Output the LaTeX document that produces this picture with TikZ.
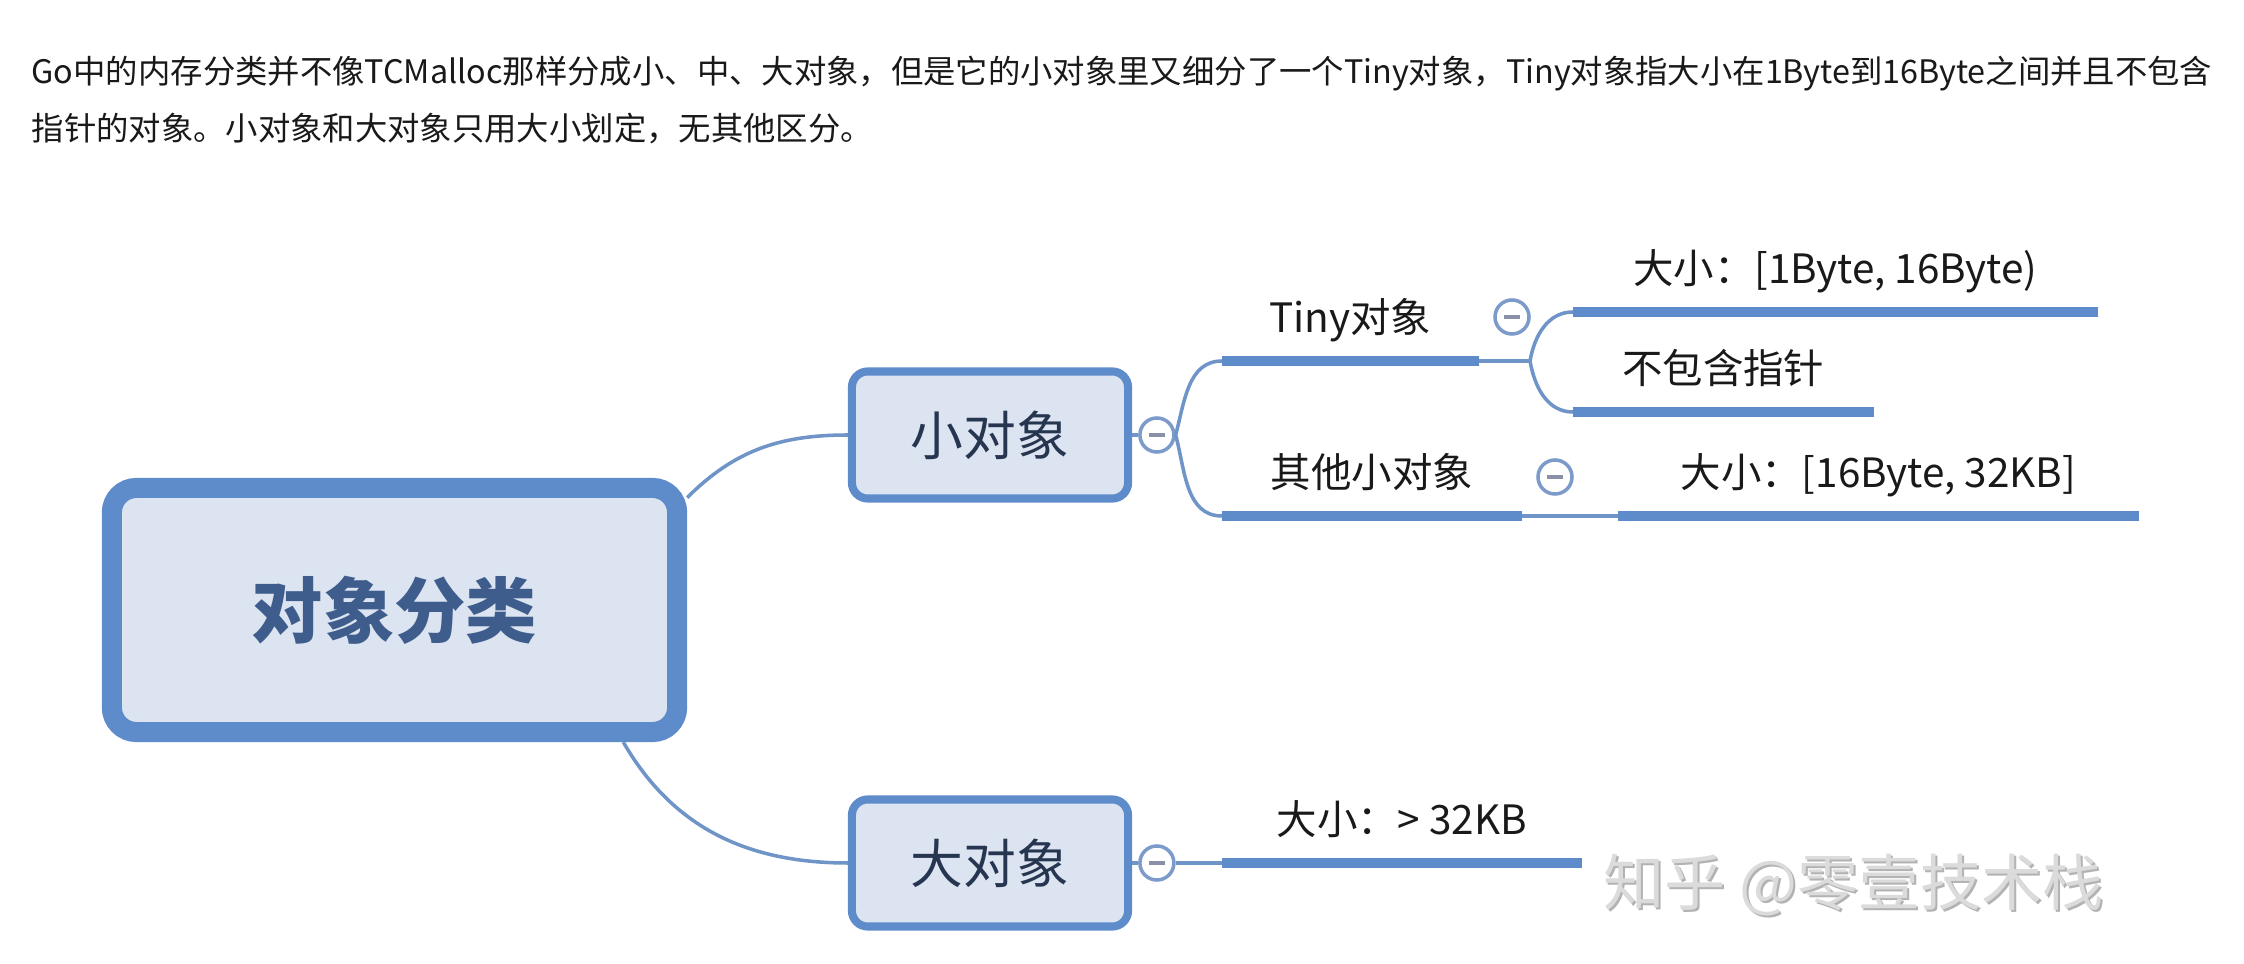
\documentclass[tikz,border=0pt]{standalone}
\usepackage{fontspec}
\setmainfont{Noto Sans CJK SC}
\usetikzlibrary{positioning}
\definecolor{mmblue}{HTML}{5E8CCB}\definecolor{mmline}{HTML}{6E94C8}\definecolor{mmfill}{HTML}{DCE4F1}
\definecolor{mmring}{HTML}{7C9BCB}\definecolor{mmminus}{HTML}{8A90A8}\definecolor{roottxt}{HTML}{3E5D8C}\definecolor{boxtxt}{HTML}{263650}
\tikzset{rootbox/.style={draw=mmblue,line width=5.7pt,fill=mmfill,rounded corners=7pt,minimum width=5.65cm,minimum height=2.44cm,font=\fontsize{20.3}{24}\selectfont\bfseries,text=roottxt},
 subbox/.style={draw=mmblue,line width=2.3pt,fill=mmfill,rounded corners=4.5pt,minimum width=2.76cm,minimum height=1.27cm,font=\fontsize{15}{18}\selectfont,text=boxtxt},
 topic/.style={anchor=south west,inner sep=0pt,text depth=0.28cm,font=\fontsize{11.5}{14}\selectfont,text=black!90},
 fold/.style={circle,draw=mmring,line width=1pt,fill=white,minimum size=0.34cm,inner sep=0pt,
  path picture={\draw[mmminus,line width=1pt]([xshift=-0.08cm]path picture bounding box.center)--([xshift=0.08cm]path picture bounding box.center);}},
 ln/.style={draw=mmline,line width=1pt},ul/.style={draw=mmblue,line width=3.1pt},
 hd/.style={anchor=base west,inner sep=0pt,font=\fontsize{9.2}{11}\selectfont,text=black!90},
 wm/.style={anchor=west,inner sep=0pt,font=\fontsize{17.4}{20}\selectfont}}
\begin{document}
\begin{tikzpicture}[x=0.01cm,y=0.01cm]
\fill[white](0,0)rectangle(2244,-964);\useasboundingbox(0,0)rectangle(2244,-964);
\node[hd](line1)at(31,-84){Go中的内存分类并不像TCMalloc那样分成小、中、大对象，但是它的小对象里又细分了一个Tiny对象，Tiny对象指大小在1Byte到16Byte之间并且不包含};
\node[hd](line2)at(31,-141){指针的对象。小对象和大对象只用大小划定，无其他区分。};
\node[rootbox](root)at(394.5,-610){对象分类};
\node[subbox](small)at(990,-435){小对象};\node[fold,right=0.06cm of small](fs){};
\node[subbox](large)at(990,-863){大对象};\node[fold,right=0.06cm of large](fl){};
\node[topic,minimum width=2.55cm](tiny)at(1222,-361){Tiny对象};\node[fold](ft)at(1512,-317){};
\node[topic,minimum width=2.98cm](other)at(1222,-516){其他小对象};\node[fold](fo)at(1555,-477){};
\coordinate(tfork)at(1530,-361);
\node[topic,minimum width=5.23cm](tsize)at(1573,-312){大小：[1Byte, 16Byte)};
\node[topic,minimum width=2.99cm](tptr)at(1573,-412){不包含指针};
\node[topic,minimum width=5.19cm](osize)at(1618,-516){大小：[16Byte, 32KB]};
\node[topic,minimum width=3.58cm](lsize)at(1222,-863){大小：> 32KB};
\draw[ln](root.21)to[out=45,in=180](small.west);\draw[ln](root.-30)to[out=-60,in=180](large.west);
\draw[ln](small.east)--(fs.west);\draw[ln](fs.east)to[out=75,in=180](tiny.south west);\draw[ln](fs.east)to[out=-75,in=180](other.south west);
\draw[ln](tiny.south east)--(tfork);\draw[ln](tfork)to[out=80,in=180](tsize.south west);\draw[ln](tfork)to[out=-80,in=180](tptr.south west);
\draw[ln](other.south east)--(osize.south west);\draw[ln](large.east)--(fl.west);\draw[ln](fl.east)--(lsize.south west);
\foreach \t in {tiny,other,tsize,tptr,osize,lsize}\draw[ul](\t.south west)--(\t.south east);
\node[wm,text=gray!60](wmshade)at(1605,-887){知乎 @零壹技术栈};\node[wm,text=gray!28](wmark)at(1603,-885){知乎 @零壹技术栈};
\end{tikzpicture}
\end{document}
